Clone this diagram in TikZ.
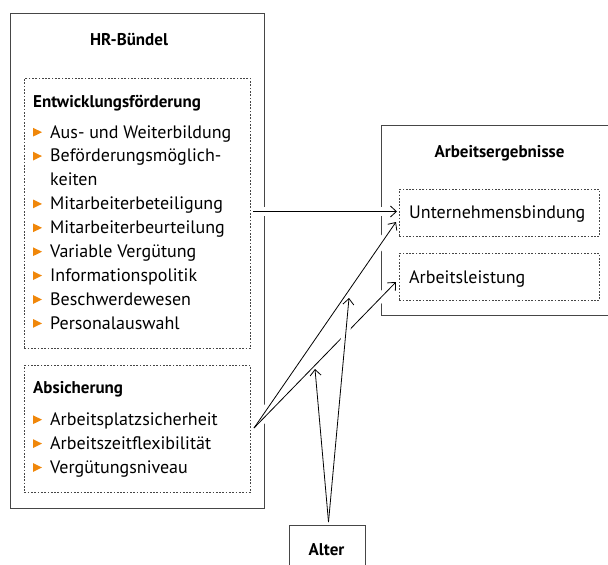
\documentclass[tikz,border=0pt]{standalone}
\usepackage{fontspec}
\setmainfont{PT Sans}
\usetikzlibrary{arrows.meta,calc}
\definecolor{orng}{RGB}{240,135,10}
\definecolor{edgegray}{RGB}{70,70,70}
\newcommand\fsz{\fontsize{18}{21}\selectfont}
\newcommand\hfsz{\fontsize{17}{20}\selectfont}
\tikzset{
  outerbox/.style={draw=edgegray, line width=0.9pt, inner sep=0pt, anchor=north west},
  dotbox/.style={draw=edgegray, line width=0.8pt, dash pattern=on 1.7pt off 1.6pt, inner sep=0pt, anchor=north west},
  conn/.style={line width=0.8pt, -{Straight Barb[length=6pt,width=11pt]}},
  gapline/.style={draw=white, line width=9pt},
  hd/.style={font=\bfseries\hfsz, inner sep=0pt, anchor=base},
  hdl/.style={font=\bfseries\hfsz, inner sep=0pt, anchor=base west},
  itm/.style={font=\fsz, inner sep=0pt, anchor=base west},
  bul/.style={fill=orng}
}
\begin{document}
\begin{tikzpicture}[x=1pt,y=-1pt]
\useasboundingbox (0,0) rectangle (608,565);
\clip (0,0) rectangle (608,565);
% outer boxes
\node[outerbox, minimum width=254pt, minimum height=495pt] (hr) at (10,13) {};
\node[outerbox, minimum width=280pt, minimum height=190pt] (ae) at (381,125) {};
\node[outerbox, minimum width=76pt, minimum height=80pt] (alt) at (289,525) {};
% connector end points
\coordinate (hsrc) at (253,211.5);
\coordinate (htgt) at (397,211.5);
\coordinate (asrc) at (254,428);
\coordinate (atgt1) at (396,222);
\coordinate (atgt2) at (396,282);
\coordinate (altsrc) at (328.5,522);
\coordinate (m1) at (349,298);
\coordinate (m2) at (315,369);
% connectors from HR bundle
\draw[gapline] (hsrc) -- (htgt);
\draw[gapline] (asrc) -- (atgt1);
\draw[gapline] (asrc) -- (atgt2);
\draw[conn] (hsrc) -- (htgt);
\draw[conn] (asrc) -- (atgt1);
\draw[conn] (asrc) -- (atgt2);
% moderator connectors
\draw[gapline, shorten >=12pt] (altsrc) -- (m1);
\draw[gapline, shorten >=12pt] (altsrc) -- (m2);
\draw[conn] (altsrc) -- (m1);
\draw[conn] (altsrc) -- (m2);
% dotted boxes
\node[dotbox, minimum width=226pt, minimum height=270pt] (entw) at (24,78) {};
\node[dotbox, minimum width=226pt, minimum height=127pt] (absi) at (24,365) {};
\node[dotbox, minimum width=200pt, minimum height=47pt] (ub) at (399,189) {};
\node[dotbox, minimum width=200pt, minimum height=47pt] (al) at (399,253) {};
% headings
\node[hd] (hrt) at (129,45) {HR-Bündel};
\node[hdl] (entwt) at (33,107) {Entwicklungsförderung};
\node[hdl] (absit) at (33,393) {Absicherung};
\node[hd] (aet) at (499.5,157) {Arbeitsergebnisse};
\node[hd] (altt) at (326.5,555) {Alter};
\node[itm] (ubt) at (409,218) {Unternehmensbindung};
\node[itm] (alt2) at (409,283) {Arbeitsleistung};
% items
\foreach \t/\b/\yy [count=\i] in {Aus- und Weiterbildung/1/138, Beförderungsmöglich-/1/161.9, keiten/0/185.8, Mitarbeiterbeteiligung/1/209.7, Mitarbeiterbeurteilung/1/233.6, Variable Vergütung/1/257.5, Informationspolitik/1/281.4, Beschwerdewesen/1/305.3, Personalauswahl/1/329.2}{
  \node[itm] (e\i) at (50,\yy) {\t};
  \ifnum\b=1 \fill[bul] (33,\yy-10.2) -- (33,\yy-1.4) -- (42,\yy-5.8) -- cycle; \fi
}
\foreach \t/\yy [count=\i] in {Arbeitsplatzsicherheit/425.5, Arbeitszeitflexibilität/449.4, Vergütungsniveau/473.3}{
  \node[itm] (a\i) at (50,\yy) {\t};
  \fill[bul] (33,\yy-10.2) -- (33,\yy-1.4) -- (42,\yy-5.8) -- cycle;
}
\end{tikzpicture}
\end{document}
